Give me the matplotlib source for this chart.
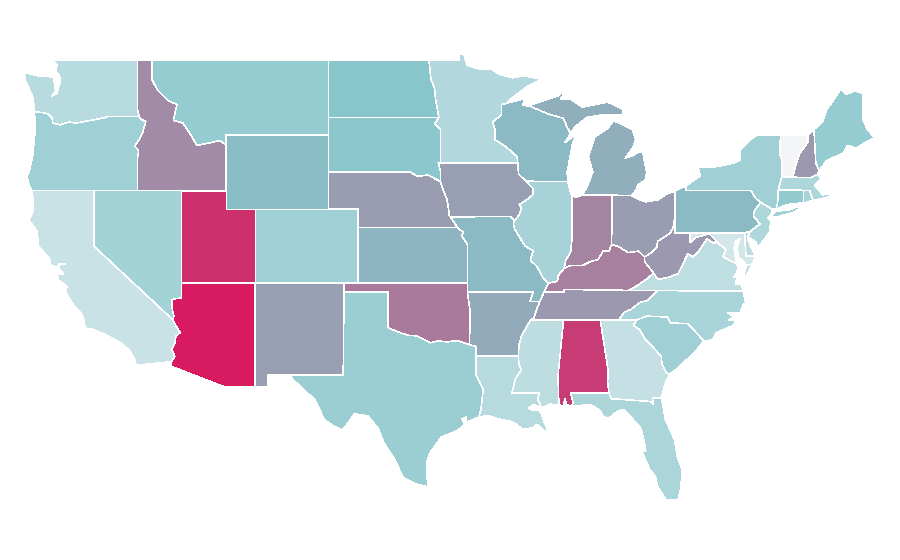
import numpy as np
import matplotlib
matplotlib.use('Agg')
import matplotlib.pyplot as plt
from matplotlib.colors import LinearSegmentedColormap, Normalize

# share per state (0 = palest, 100 = reddest)
STATE_CODES = ['WA', 'OR', 'CA', 'NV', 'ID', 'MT', 'WY', 'UT', 'CO', 'AZ', 'NM', 'ND', 'SD', 'NE', 'KS', 'OK',
               'TX', 'MN', 'IA', 'MO', 'AR', 'LA', 'WI', 'IL', 'MI', 'IN', 'OH', 'KY', 'TN', 'MS', 'AL', 'GA',
               'FL', 'SC', 'NC', 'VA', 'WV', 'PA', 'NY', 'VT', 'NH', 'ME', 'MA', 'CT', 'RI', 'NJ', 'DE', 'MD']
STATE_VALUES = [27, 39, 20, 37, 67, 43, 52, 93.5, 39, 100, 61, 49, 48, 62, 55, 72,
                41, 30, 61, 53.5, 58, 28, 53.5, 35, 57, 69, 62, 70, 63, 25, 90, 22,
                33, 38, 34, 24, 63, 53.5, 38, 0, 63, 43, 32, 45, 35, 32, 25, 15]
SCALE_COLORS = ['#f4f5f7', '#86c5cb', '#d81b60']

# state border pieces in lon/lat, shared so neighbours line up
BORDERS = {
    'wa_n': [(-122.76, 49), (-117.04, 49)],
    'wa_id': [(-117.04, 49), (-117.04, 46.42), (-116.92, 46)],
    'wa_or': [(-124.05, 46.27), (-123.4, 46.2), (-123.15, 46.15), (-122.85, 45.95), (-122.78, 45.65), (-122.3, 45.55),
              (-121.7, 45.7), (-121.2, 45.65), (-120.65, 45.73), (-120, 45.82), (-119.3, 45.93), (-119, 46), (-116.92, 46)],
    'wa_coast': [(-122.76, 49), (-122.5, 48.75), (-122.6, 48.4), (-122.35, 48.2), (-122.25, 47.9), (-122.4, 47.6),
                 (-122.5, 47.25), (-122.85, 47.1), (-122.6, 47.35), (-122.65, 47.7), (-122.75, 48.1), (-123.1, 48.15),
                 (-123.7, 48.17), (-124.73, 48.38), (-124.65, 47.95), (-124.35, 47.4), (-124.1, 46.95), (-124.05, 46.27)],
    'or_id': [(-116.92, 46), (-116.78, 45.85), (-116.47, 45.72), (-116.7, 45.1), (-116.85, 44.85), (-117.22, 44.4),
              (-117.03, 44.25), (-116.95, 44.1), (-117.03, 43.8), (-117.03, 42)],
    'or_coast': [(-124.05, 46.27), (-123.95, 45.5), (-124.05, 44.7), (-124.15, 43.9), (-124.4, 43), (-124.55, 42.84),
                 (-124.4, 42.3), (-124.2, 42)],
    'or_ca': [(-124.2, 42), (-120, 42)],
    'or_nv': [(-120, 42), (-117.03, 42)],
    'ca_nv': [(-120, 42), (-120, 39), (-114.63, 35)],
    'ca_az': [(-114.72, 32.72), (-114.5, 33), (-114.7, 33.4), (-114.5, 33.7), (-114.42, 34.1), (-114.14, 34.3),
              (-114.43, 34.7), (-114.63, 35)],
    'ca_mx': [(-117.12, 32.53), (-114.72, 32.72)],
    'ca_coast': [(-124.2, 42), (-124.1, 41.4), (-124.15, 40.85), (-124.4, 40.4), (-123.85, 39.8), (-123.75, 39),
                 (-123, 38.3), (-122.95, 38), (-122.5, 37.83), (-122.35, 38.05), (-121.9, 38.05), (-122.3, 38),
                 (-122.4, 37.8), (-122.05, 37.5), (-122.5, 37.5), (-122.4, 37.15), (-122, 36.95), (-121.8, 36.8),
                 (-121.95, 36.55), (-121.3, 35.7), (-120.85, 35.35), (-120.65, 34.95), (-120.6, 34.55), (-120, 34.47),
                 (-119.25, 34.2), (-118.8, 34.02), (-118.4, 33.85), (-118.1, 33.7), (-117.6, 33.35), (-117.25, 32.9),
                 (-117.12, 32.53)],
    'id_nv': [(-117.03, 42), (-114.05, 42)],
    'nv_ut': [(-114.05, 42), (-114.05, 37)],
    'nv_az': [(-114.63, 35), (-114.57, 35.2), (-114.67, 35.6), (-114.7, 36.1), (-114.4, 36.15), (-114.05, 36.2), (-114.05, 37)],
    'id_top': [(-117.04, 49), (-116.05, 49)],
    'id_mt': [(-116.05, 49), (-116.05, 48), (-115.7, 47.45), (-114.95, 46.85), (-114.35, 46.65), (-114.6, 45.8),
              (-113.95, 45.65), (-113.45, 45.05), (-113, 44.45), (-112.3, 44.55), (-111.45, 44.7), (-111.05, 44.48)],
    'id_wy': [(-111.05, 44.48), (-111.05, 42)],
    'id_ut': [(-111.05, 42), (-114.05, 42)],
    'mt_n': [(-116.05, 49), (-104.05, 49)],
    'mt_nd': [(-104.05, 49), (-104.05, 45.94)],
    'mt_sd': [(-104.05, 45.94), (-104.05, 45)],
    'wy_mt': [(-104.05, 45), (-111.05, 45), (-111.05, 44.48)],
    'wy_sd': [(-104.05, 45), (-104.05, 43)],
    'wy_ne': [(-104.05, 43), (-104.05, 41)],
    'wy_co': [(-104.05, 41), (-109.05, 41)],
    'wy_ut': [(-109.05, 41), (-111.05, 41), (-111.05, 42)],
    'ut_co': [(-109.05, 41), (-109.05, 37)],
    'ut_az': [(-109.05, 37), (-114.05, 37)],
    'co_ne': [(-104.05, 41), (-102.05, 41), (-102.05, 40)],
    'co_ks': [(-102.05, 40), (-102.05, 37)],
    'co_ok': [(-102.05, 37), (-103, 37)],
    'co_nm': [(-103, 37), (-109.05, 37)],
    'az_nm': [(-109.05, 37), (-109.05, 31.33)],
    'az_mx': [(-109.05, 31.33), (-111.07, 31.33), (-114.81, 32.49), (-114.72, 32.72)],
    'nm_ok': [(-103, 37), (-103, 36.5)],
    'nm_tx': [(-103, 36.5), (-103.06, 32), (-106.62, 32)],
    'nm_mx': [(-106.62, 32), (-108.2, 32), (-108.2, 31.33), (-109.05, 31.33)],
    'tx_ok': [(-103, 36.5), (-100, 36.5), (-100, 34.56), (-99.2, 34.3), (-98.6, 34.15), (-98.1, 34.13), (-97.5, 33.9),
              (-97.15, 33.75), (-96.6, 33.85), (-96, 33.8), (-95.3, 33.87), (-94.48, 33.64)],
    'tx_ar': [(-94.48, 33.64), (-94.04, 33.55), (-94.04, 33.02)],
    'tx_la': [(-94.04, 33.02), (-94.04, 32), (-93.55, 31.2), (-93.7, 30.1), (-93.85, 29.7)],
    'tx_coast': [(-97.3, 25.88), (-97.4, 26.8), (-97.35, 27.3), (-97.2, 27.7), (-96.85, 28.1), (-96.4, 28.6),
                 (-95.3, 28.95), (-94.8, 29.3), (-95, 29.6), (-94.7, 29.7), (-94.7, 29.4), (-93.85, 29.7)],
    'rio': [(-106.62, 32), (-106.53, 31.78), (-106, 31.4), (-105, 30.65), (-104.6, 30), (-104.35, 29.55), (-103.7, 29.2),
            (-103.15, 28.98), (-102.8, 29.3), (-102.3, 29.87), (-101.4, 29.77), (-100.7, 29.1), (-100.3, 28.3),
            (-99.5, 27.3), (-99, 26.4), (-98.2, 26.05), (-97.3, 25.88)],
    'ks_ok': [(-94.62, 37), (-102.05, 37)],
    'ar_ok': [(-94.48, 33.64), (-94.43, 35.4), (-94.62, 36.5)],
    'mo_ok': [(-94.62, 36.5), (-94.62, 37)],
    'ne_ks': [(-102.05, 40), (-95.3, 40)],
    'ks_mo': [(-95.3, 40), (-94.9, 39.75), (-95, 39.55), (-94.62, 39.1), (-94.62, 37)],
    'sd_ne': [(-104.05, 43), (-98.5, 43), (-98, 42.77), (-97.3, 42.85), (-96.45, 42.49)],
    'ne_ia': [(-96.45, 42.49), (-96.25, 42), (-96, 41.5), (-95.9, 41), (-95.85, 40.65), (-95.77, 40.58)],
    'ne_mo': [(-95.77, 40.58), (-95.3, 40)],
    'nd_sd': [(-104.05, 45.94), (-96.56, 45.94)],
    'sd_mn': [(-96.56, 45.94), (-96.85, 45.6), (-96.45, 45.3), (-96.45, 43.5)],
    'sd_ia': [(-96.45, 43.5), (-96.6, 43.5), (-96.45, 43.05), (-96.45, 42.49)],
    'nd_n': [(-104.05, 49), (-97.23, 49)],
    'nd_mn': [(-97.23, 49), (-97.1, 48), (-96.85, 47.5), (-96.78, 46.9), (-96.57, 46), (-96.56, 45.94)],
    'mn_n': [(-97.23, 49), (-95.15, 49), (-95.15, 49.38), (-94.85, 49.33), (-94.65, 48.75), (-93.8, 48.55), (-93, 48.55),
             (-92.4, 48.25), (-91.5, 48.08), (-90.8, 48.2), (-89.6, 48)],
    'mn_shore': [(-89.6, 48), (-90.5, 47.65), (-91.5, 47.05), (-92, 46.7)],
    'mn_wi': [(-91.2, 43.5), (-91.25, 43.85), (-92.05, 44.4), (-92.75, 44.75), (-92.75, 45.3), (-92.9, 45.7), (-92.3, 46.1),
              (-92.3, 46.65), (-92, 46.7)],
    'ia_mn': [(-91.2, 43.5), (-96.45, 43.5)],
    'ia_wi': [(-90.64, 42.51), (-91.15, 42.9), (-91.2, 43.5)],
    'ia_il': [(-91.42, 40.38), (-91.1, 40.7), (-90.95, 41.05), (-91.1, 41.25), (-90.6, 41.5), (-90.15, 41.8), (-90.15, 42.1),
              (-90.64, 42.51)],
    'ia_mo': [(-91.42, 40.38), (-91.73, 40.61), (-95.77, 40.58)],
    'il_mo': [(-89.13, 36.98), (-89.5, 37.3), (-89.9, 37.9), (-90.35, 38.25), (-90.15, 38.75), (-90.7, 39), (-91.4, 39.9),
              (-91.5, 40.2), (-91.42, 40.38)],
    'mo_ky': [(-89.13, 36.98), (-89.42, 36.5)],
    'mo_tn': [(-89.42, 36.5), (-89.7, 36)],
    'mo_ar': [(-89.7, 36), (-90.37, 36), (-90.15, 36.5), (-94.62, 36.5)],
    'ar_tn': [(-89.7, 36), (-89.95, 35.5), (-90.1, 35.1), (-90.3, 35)],
    'ar_ms': [(-90.3, 35), (-90.55, 34.7), (-90.95, 34.1), (-91.1, 33.7), (-91.17, 33.02)],
    'ar_la': [(-91.17, 33.02), (-94.04, 33.02)],
    'la_ms': [(-91.17, 33.02), (-91.1, 32.5), (-90.95, 32.3), (-91.35, 31.8), (-91.6, 31), (-89.73, 31), (-89.85, 30.7),
              (-89.6, 30.2)],
    'la_coast': [(-93.85, 29.7), (-93.2, 29.78), (-92.3, 29.55), (-91.8, 29.5), (-91.3, 29.3), (-90.9, 29.05), (-90.2, 29.1),
                 (-89.9, 29.3), (-89.4, 28.95), (-89.15, 29), (-89.4, 29.4), (-89.6, 29.9), (-89.75, 30.05), (-90.2, 30.05),
                 (-90.45, 30.2), (-90.1, 30.37), (-89.75, 30.25), (-89.6, 30.2)],
    'ms_coast': [(-89.6, 30.2), (-89, 30.4), (-88.4, 30.37)],
    'ms_al': [(-88.4, 30.37), (-88.47, 31.9), (-88.1, 34.9), (-88.2, 35)],
    'ms_tn': [(-88.2, 35), (-90.3, 35)],
    'al_coast': [(-88.4, 30.37), (-88.1, 30.25), (-88, 30.7), (-87.9, 30.4), (-87.6, 30.28), (-87.52, 30.28)],
    'al_fl': [(-87.52, 30.28), (-87.45, 30.5), (-87.6, 31), (-85, 31)],
    'al_ga': [(-85, 31), (-85.1, 31.6), (-85.05, 32.1), (-85.18, 32.87), (-85.6, 35)],
    'al_tn': [(-85.6, 35), (-88.2, 35)],
    'fl_coast': [(-81.45, 30.72), (-81.3, 30.2), (-81.2, 29.6), (-80.85, 29), (-80.55, 28.45), (-80.35, 27.5), (-80.03, 26.8),
                 (-80.13, 25.8), (-80.3, 25.2), (-81.1, 25.13), (-81.7, 25.9), (-81.85, 26.45), (-82.25, 26.85), (-82.75, 27.8),
                 (-82.5, 27.85), (-82.65, 28.5), (-82.85, 29.1), (-83.4, 29.6), (-84, 30.1), (-84.35, 30.05), (-85, 29.65),
                 (-85.35, 29.7), (-85.65, 30.1), (-86.3, 30.38), (-87.52, 30.28)],
    'ga_fl': [(-81.45, 30.72), (-82.05, 30.75), (-82, 30.37), (-82.2, 30.55), (-84.86, 30.7), (-85, 31)],
    'ga_coast': [(-80.88, 32.03), (-81.15, 31.6), (-81.3, 31.2), (-81.45, 30.72)],
    'ga_sc': [(-83.11, 35), (-83.35, 34.7), (-82.9, 34.45), (-82.55, 33.95), (-82, 33.5), (-81.45, 33), (-81.4, 32.6),
              (-81.1, 32.1), (-80.88, 32.03)],
    'ga_nc': [(-83.11, 35), (-84.32, 35)],
    'ga_tn': [(-84.32, 35), (-85.6, 35)],
    'sc_coast': [(-80.88, 32.03), (-80.45, 32.3), (-79.9, 32.7), (-79.2, 33.2), (-78.55, 33.86)],
    'nc_sc': [(-83.11, 35), (-82.4, 35.2), (-81.05, 35.15), (-80.8, 34.82), (-79.67, 34.8), (-78.55, 33.86)],
    'nc_coast': [(-78.55, 33.86), (-77.95, 33.9), (-77.7, 34.3), (-76.55, 34.7), (-76.4, 35), (-76.9, 35), (-76.5, 35.15),
                 (-76.95, 35.4), (-76.1, 35.35), (-75.85, 35.9), (-75.52, 35.25), (-75.75, 36), (-75.87, 36.55)],
    'nc_va': [(-75.87, 36.55), (-81.68, 36.59)],
    'nc_tn': [(-84.32, 35), (-84, 35.4), (-83.5, 35.57), (-82.9, 35.95), (-82.4, 36.05), (-81.68, 36.59)],
    'ky_tn': [(-89.42, 36.5), (-88.07, 36.5), (-88.07, 36.65), (-83.68, 36.6)],
    'tn_va': [(-83.68, 36.6), (-81.68, 36.59)],
    'ky_va': [(-83.68, 36.6), (-83.1, 36.85), (-82.3, 37.3), (-81.97, 37.54)],
    'ky_wv': [(-81.97, 37.54), (-82.6, 38.17), (-82.6, 38.42)],
    'oh_ky': [(-82.6, 38.42), (-83, 38.73), (-83.7, 38.65), (-84.3, 38.95), (-84.82, 39.1)],
    'in_ky': [(-84.82, 39.1), (-85, 38.75), (-85.4, 38.73), (-85.75, 38.27), (-86.3, 38.15), (-86.8, 37.95), (-87.6, 37.95),
              (-88.05, 37.8)],
    'il_ky': [(-88.05, 37.8), (-88.45, 37.4), (-88.5, 37.1), (-89.13, 36.98)],
    'wi_il': [(-90.64, 42.51), (-87.8, 42.5)],
    'il_lake': [(-87.8, 42.5), (-87.6, 41.85), (-87.53, 41.72)],
    'il_in': [(-87.53, 41.72), (-87.53, 39.3), (-87.6, 38.7), (-87.95, 38.2), (-88.05, 37.8)],
    'in_lake': [(-87.53, 41.72), (-87.2, 41.65), (-86.82, 41.76)],
    'in_mi': [(-86.82, 41.76), (-84.8, 41.76)],
    'in_oh': [(-84.8, 41.76), (-84.82, 39.1)],
    'oh_mi': [(-84.8, 41.76), (-83.45, 41.73)],
    'oh_erie': [(-83.45, 41.73), (-82.9, 41.5), (-82.5, 41.4), (-81.7, 41.5), (-81, 41.85), (-80.52, 41.98)],
    'oh_pa': [(-80.52, 41.98), (-80.52, 40.64)],
    'oh_wv': [(-80.52, 40.64), (-80.65, 40), (-80.85, 39.7), (-81.7, 39.25), (-81.75, 38.95), (-82.2, 38.6), (-82.6, 38.42)],
    'wi_sup': [(-92, 46.7), (-91.2, 46.87), (-90.75, 46.95), (-90.85, 46.6), (-90.42, 46.57)],
    'wi_mi': [(-90.42, 46.57), (-89.1, 46.13), (-88.1, 45.9), (-87.8, 45.35), (-87.6, 45.1)],
    'wi_lake': [(-87.6, 45.1), (-88, 44.6), (-87.45, 44.9), (-87.1, 45.2), (-87.5, 44.5), (-87.6, 44), (-87.85, 43),
                (-87.8, 42.5)],
    'up_shore': [(-87.6, 45.1), (-87.3, 45.45), (-86.5, 45.95), (-85.4, 46.1), (-84.05, 46.1), (-84.1, 46.4), (-85.1, 46.78),
                 (-86.8, 46.5), (-87.65, 46.95), (-88.3, 46.95), (-87.8, 47.5), (-88.5, 47.1), (-90.16, 46.67),
                 (-90.42, 46.57)],
    'lp_shore': [(-83.45, 41.73), (-83.15, 42.05), (-83.05, 42.3), (-82.5, 42.6), (-82.45, 43), (-82.7, 44.06), (-83, 44.07),
                 (-83.4, 43.9), (-83.9, 43.75), (-83.4, 44.3), (-83.2, 44.75), (-83.4, 45.3), (-84.2, 45.6), (-84.7, 45.78),
                 (-85.1, 45.35), (-85.95, 44.9), (-86.4, 43.85), (-86.1, 43), (-86.5, 42.2), (-86.82, 41.76)],
    'pa_erie': [(-80.52, 41.98), (-79.76, 42.27)],
    'pa_ny': [(-79.76, 42.27), (-79.76, 42), (-75.35, 42), (-75.05, 41.6), (-74.7, 41.36)],
    'pa_nj': [(-74.7, 41.36), (-75.1, 40.95), (-75.2, 40.65), (-74.75, 40.2), (-75.4, 39.8)],
    'pa_de': [(-75.4, 39.8), (-75.79, 39.72)],
    'pa_md': [(-75.79, 39.72), (-79.48, 39.72)],
    'pa_wv': [(-79.48, 39.72), (-80.52, 39.72), (-80.52, 40.64)],
    'ny_lakes': [(-79.76, 42.27), (-78.8, 42.8), (-78.95, 43.25), (-77.6, 43.3), (-76.5, 43.5), (-76.1, 43.65), (-76.1, 44.2),
                 (-75.1, 44.95), (-74.7, 45)],
    'ny_can': [(-74.7, 45), (-73.35, 45)],
    'ny_vt': [(-73.35, 45), (-73.4, 44), (-73.25, 43.6), (-73.27, 42.75)],
    'ny_ma': [(-73.27, 42.75), (-73.5, 42.05)],
    'ny_ct': [(-73.5, 42.05), (-73.55, 41.3), (-73.65, 41)],
    'ny_sound': [(-73.65, 41), (-73.9, 41)],
    'nj_ny': [(-73.9, 41), (-74.7, 41.36)],
    'nj_coast': [(-73.9, 41), (-74, 40.7), (-74.2, 40.5), (-74, 40.4), (-74.1, 39.75), (-74.4, 39.4), (-74.9, 38.93), (-75, 39.2),
                 (-75.55, 39.5), (-75.4, 39.8)],
    'de_bay': [(-75.4, 39.8), (-75.6, 39.45), (-75.4, 39.05), (-75.05, 38.45)],
    'de_md': [(-75.79, 39.72), (-75.7, 38.45), (-75.05, 38.45)],
    'md_east': [(-75.05, 38.45), (-75.25, 38.03), (-75.65, 37.95), (-75.9, 38.2), (-76.2, 38.4), (-76.3, 38.9), (-76.1, 39.4),
                (-76.4, 39.25), (-76.5, 38.9), (-76.4, 38.3), (-76.35, 38.05)],
    'md_va': [(-77.75, 39.32), (-77.5, 39.1), (-77.05, 38.8), (-77.25, 38.45), (-77, 38.3), (-76.35, 38.05)],
    'md_wv': [(-77.75, 39.32), (-78.2, 39.68), (-78.7, 39.55), (-79.1, 39.47), (-79.48, 39.2), (-79.48, 39.72)],
    'wv_va': [(-77.75, 39.32), (-77.83, 39.13), (-78.35, 39.4), (-78.87, 38.76), (-79.3, 38.42), (-79.65, 38.58), (-80.3, 37.5),
              (-81, 37.3), (-81.68, 37.2), (-81.97, 37.54)],
    'va_bay': [(-76.35, 38.05), (-76.25, 37.9), (-76.3, 37.6), (-76.55, 37.3), (-76.3, 37.3), (-76.4, 36.95), (-76, 36.9),
               (-75.87, 36.55)],
    'vt_can': [(-73.35, 45), (-71.5, 45)],
    'vt_nh': [(-71.5, 45), (-71.5, 44.6), (-72.05, 44), (-72.45, 43), (-72.46, 42.73)],
    'vt_ma': [(-72.46, 42.73), (-73.27, 42.75)],
    'nh_can': [(-71.5, 45), (-71.08, 45.3)],
    'nh_me': [(-71.08, 45.3), (-70.95, 43.5), (-70.72, 43.07)],
    'nh_coast': [(-70.72, 43.07), (-70.85, 42.87)],
    'nh_ma': [(-70.85, 42.87), (-71.3, 42.7), (-72.46, 42.73)],
    'me_rest': [(-71.08, 45.3), (-70.5, 45.7), (-70.2, 46.4), (-69.9, 46.7), (-69.25, 47.47), (-68.9, 47.2), (-68.3, 47.38),
                (-67.75, 47.25), (-67.75, 45.85), (-67.45, 45.3), (-66.95, 44.85), (-67.7, 44.55), (-68.2, 44.3), (-68.8, 44.45),
                (-69.05, 44.05), (-70, 43.7), (-70.25, 43.6), (-70.72, 43.07)],
    'ma_coast': [(-70.85, 42.87), (-70.6, 42.65), (-71.05, 42.3), (-70.65, 41.95), (-70.5, 41.78), (-70, 41.8), (-70.2, 42.05),
                 (-69.95, 41.7), (-70.6, 41.55), (-71.15, 41.5)],
    'ma_ri': [(-71.15, 41.5), (-71.38, 42.02), (-71.8, 42.02)],
    'ma_ct': [(-71.8, 42.02), (-73.5, 42.05)],
    'ct_ri': [(-71.8, 42.02), (-71.8, 41.35)],
    'ct_coast': [(-71.8, 41.35), (-72.9, 41.25), (-73.65, 41)],
    'ri_coast': [(-71.15, 41.5), (-71.5, 41.38), (-71.8, 41.35)],
    # islands and detached parts
    'long_island': [(-74, 40.6), (-73.75, 40.85), (-73.1, 40.95), (-72.6, 40.98), (-72.3, 41.15), (-72, 41.05), (-72.5, 40.82), (-73.5, 40.6)],
    'va_shore': [(-75.25, 38.03), (-75.65, 37.95), (-75.95, 37.15), (-75.6, 37.5)],
    'isle_royale': [(-89.15, 47.9), (-88.5, 48.17), (-88.6, 48.05)],
    'santa_cruz': [(-120.1, 34), (-119.55, 34.05), (-119.6, 33.95)],
    'nantucket': [(-70.3, 41.3), (-69.97, 41.3), (-70.05, 41.22)],
    'vineyard': [(-70.8, 41.36), (-70.5, 41.47), (-70.5, 41.35)],
}

# each state is one or more rings of border pieces, '-' walks a piece backwards
STATE_RINGS = {
    'WA': ['wa_n wa_id -wa_or -wa_coast'],
    'OR': ['wa_or or_id -or_nv -or_ca -or_coast'],
    'CA': ['or_ca ca_nv -ca_az -ca_mx -ca_coast', 'santa_cruz'],
    'NV': ['or_nv id_nv nv_ut -nv_az -ca_nv'],
    'ID': ['id_top id_mt id_wy id_ut -id_nv -or_id -wa_id'],
    'MT': ['mt_n mt_nd mt_sd wy_mt -id_mt'],
    'WY': ['-wy_mt wy_sd wy_ne wy_co wy_ut -id_wy'],
    'UT': ['-id_ut -wy_ut ut_co ut_az -nv_ut'],
    'CO': ['-wy_co co_ne co_ks co_ok co_nm -ut_co'],
    'AZ': ['-ut_az az_nm az_mx ca_az nv_az'],
    'NM': ['-co_nm nm_ok nm_tx nm_mx -az_nm'],
    'ND': ['nd_n nd_mn -nd_sd -mt_nd'],
    'SD': ['nd_sd sd_mn sd_ia -sd_ne -wy_sd -mt_sd'],
    'NE': ['sd_ne ne_ia ne_mo -ne_ks -co_ne -wy_ne'],
    'KS': ['ne_ks ks_mo ks_ok -co_ks'],
    'OK': ['ks_ok co_ok nm_ok tx_ok ar_ok mo_ok'],
    'TX': ['-nm_tx tx_ok tx_ar tx_la -tx_coast -rio'],
    'MN': ['mn_n mn_shore -mn_wi ia_mn -sd_mn -nd_mn'],
    'IA': ['-ia_mn -ia_wi -ia_il ia_mo -ne_ia -sd_ia'],
    'MO': ['-ia_mo -il_mo mo_ky mo_tn mo_ar mo_ok -ks_mo -ne_mo'],
    'AR': ['-mo_ar ar_tn ar_ms ar_la -tx_ar ar_ok'],
    'LA': ['-ar_la la_ms -la_coast -tx_la'],
    'WI': ['wi_sup wi_mi wi_lake -wi_il ia_wi mn_wi'],
    'IL': ['wi_il il_lake il_in il_ky il_mo ia_il'],
    'MI': ['in_mi oh_mi lp_shore', 'wi_mi up_shore', 'isle_royale'],
    'IN': ['in_lake in_mi in_oh in_ky -il_in'],
    'OH': ['oh_mi oh_erie oh_pa oh_wv oh_ky -in_oh'],
    'KY': ['-mo_ky -il_ky -in_ky -oh_ky -ky_wv -ky_va -ky_tn'],
    'TN': ['ky_tn tn_va -nc_tn ga_tn al_tn ms_tn -ar_tn -mo_tn'],
    'MS': ['ar_ms la_ms ms_coast ms_al ms_tn'],
    'AL': ['-ms_al al_coast al_fl al_ga al_tn'],
    'GA': ['-al_ga -ga_fl -ga_coast -ga_sc ga_nc ga_tn'],
    'FL': ['-al_fl -fl_coast ga_fl'],
    'SC': ['ga_sc sc_coast -nc_sc'],
    'NC': ['nc_sc nc_coast nc_va -nc_tn -ga_nc'],
    'VA': ['ky_va -wv_va md_va va_bay nc_va -tn_va', 'va_shore'],
    'WV': ['-oh_wv -pa_wv -md_wv wv_va ky_wv'],
    'PA': ['pa_erie pa_ny pa_nj pa_de pa_md pa_wv -oh_pa'],
    'NY': ['ny_lakes ny_can ny_vt ny_ma ny_ct ny_sound nj_ny -pa_ny', 'long_island'],
    'VT': ['vt_can vt_nh vt_ma -ny_vt'],
    'NH': ['-vt_nh nh_can nh_me nh_coast nh_ma'],
    'ME': ['-nh_me me_rest'],
    'MA': ['-vt_ma -nh_ma ma_coast ma_ri ma_ct -ny_ma', 'nantucket', 'vineyard'],
    'CT': ['-ma_ct ct_ri ct_coast -ny_ct'],
    'RI': ['-ma_ri ri_coast -ct_ri'],
    'NJ': ['-nj_ny nj_coast -pa_nj'],
    'DE': ['-pa_de de_bay -de_md'],
    'MD': ['-pa_md de_md md_east -md_va md_wv'],
}


def project(points):
    # map projection fitted to the picture, output in figure pixels
    pts = np.array(points, dtype=float)
    x = 255 + (pts[:, 0] + 109.05) * 14.72
    y = 283 - (pts[:, 1] - 37) * 18.42 - (pts[:, 1] - 37) ** 2 * 0.0086
    return x, y


def build_ring(spec):
    points = []
    for name in spec.split():
        if name.startswith('-'):
            points.extend(BORDERS[name[1:]][::-1])
        else:
            points.extend(BORDERS[name])
    return points


fig, ax = plt.subplots(figsize=(9, 5.6), dpi=100)
fig.subplots_adjust(left=0, right=1, bottom=0, top=1)

cmap = LinearSegmentedColormap.from_list('share', SCALE_COLORS)
norm = Normalize(0, 100)

for code, value in zip(STATE_CODES, STATE_VALUES):
    for spec in STATE_RINGS[code]:
        xs, ys = project(build_ring(spec))
        ax.fill(xs, ys, facecolor=cmap(norm(value)), edgecolor='white', linewidth=0.4, antialiased=False)

ax.set_xlim(0, 900)
ax.set_ylim(560, 0)
ax.axis('off')

fig.savefig('out.png', dpi=100, facecolor='white')
